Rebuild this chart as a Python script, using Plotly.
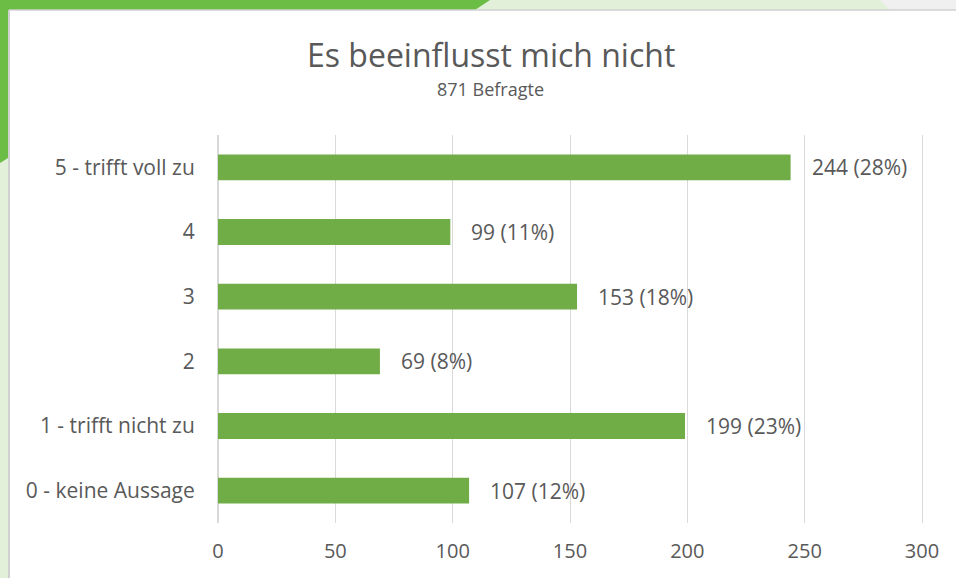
import plotly.graph_objects as go

categories = ["0 - keine Aussage", "1 - trifft nicht zu", "2", "3", "4", "5 - trifft voll zu"]
counts = [107, 199, 69, 153, 99, 244]
total_respondents = 871
x_ticks = [0, 50, 100, 150, 200, 250, 300]

title_text = "Es beeinflusst mich nicht"
subtitle_text = f"{total_respondents} Befragte"

W, H = 956, 578
L, R, T, B = 218, 34, 135, 55
PW, PH = W - L - R, H - T - B

def px(x):
    return (x - L) / PW

def py(y):
    return (H - B - y) / PH

TEXT = "#595959"
BAR = "#70ad47"
GREEN = "#6cbd45"
LIGHT = "#e2efd9"
GRID = "#d9d9d9"
FONT = "Open Sans"

labels = [f"{c} ({round(c / total_respondents * 100)}%)" for c in counts]

fig = go.Figure()
fig.add_trace(go.Bar(
    y=categories, x=counts, orientation="h",
    marker=dict(color=BAR, line=dict(width=0)),
    hoverinfo="skip",
))

for cat, c, lab in zip(categories, counts, labels):
    fig.add_annotation(x=c, y=cat, xref="x", yref="y", text=lab, showarrow=False,
                       xanchor="left", xshift=19, font=dict(family=FONT, size=21, color=TEXT))

def path(points):
    s = "M " + " L ".join(f"{px(a)},{py(b)}" for a, b in points) + " Z"
    return s

shapes = [
    dict(type="path", path=path([(0, 0), (W, 0), (W, 10), (0, 10)]), fillcolor="#f0f0f0", line=dict(width=0)),
    dict(type="path", path=path([(470, 0), (880, 0), (890, 10), (460, 10)]), fillcolor=LIGHT, line=dict(width=0)),
    dict(type="path", path=path([(0, 0), (490, 0), (475, 10), (0, 10)]), fillcolor=GREEN, line=dict(width=0)),
    dict(type="path", path=path([(0, 150), (8, 150), (8, H), (0, H)]), fillcolor=LIGHT, line=dict(width=0)),
    dict(type="path", path=path([(0, 0), (8, 0), (8, 158), (0, 163)]), fillcolor=GREEN, line=dict(width=0)),
    dict(type="line", x0=px(9), x1=px(9), y0=py(10), y1=py(H), xref="paper", yref="paper",
         line=dict(color="#d0d0d0", width=2)),
    dict(type="line", x0=px(9), x1=px(W), y0=py(10), y1=py(10), xref="paper", yref="paper",
         line=dict(color="#d0d0d0", width=1.5)),
]
for s in shapes:
    s.setdefault("xref", "paper")
    s.setdefault("yref", "paper")
    s["layer"] = "below"

fig.update_layout(
    width=W, height=H,
    margin=dict(l=L, r=R, t=T, b=B, pad=0),
    paper_bgcolor="white", plot_bgcolor="white",
    showlegend=False,
    bargap=0.6,
    shapes=shapes,
    font=dict(family=FONT, color=TEXT),
    xaxis=dict(range=[0, 300], tickvals=x_ticks, showgrid=True, gridcolor=GRID, gridwidth=1,
               zeroline=True, zerolinecolor=GRID, zerolinewidth=1,
               showline=False, ticks="", tickfont=dict(family=FONT, size=20, color=TEXT),
               ticklabelstandoff=14, fixedrange=True),
    yaxis=dict(categoryorder="array", categoryarray=categories, showgrid=False,
               showline=True, mirror=True, linecolor=GRID, linewidth=1,
               ticks="", tickfont=dict(family=FONT, size=21, color=TEXT), ticklabelstandoff=18,
               fixedrange=True),
    annotations=list(fig.layout.annotations) + [
        dict(text=title_text, x=px(491), y=py(54), xref="paper", yref="paper", showarrow=False,
             xanchor="center", yanchor="middle", font=dict(family=FONT, size=32, color=TEXT)),
        dict(text=subtitle_text, x=px(490), y=py(89), xref="paper", yref="paper", showarrow=False,
             xanchor="center", yanchor="middle", font=dict(family=FONT, size=18, color=TEXT)),
    ],
)

fig.write_html("out.html", config={"displayModeBar": False},
               post_script="document.body.style.margin='0';document.body.style.overflow='hidden';")
